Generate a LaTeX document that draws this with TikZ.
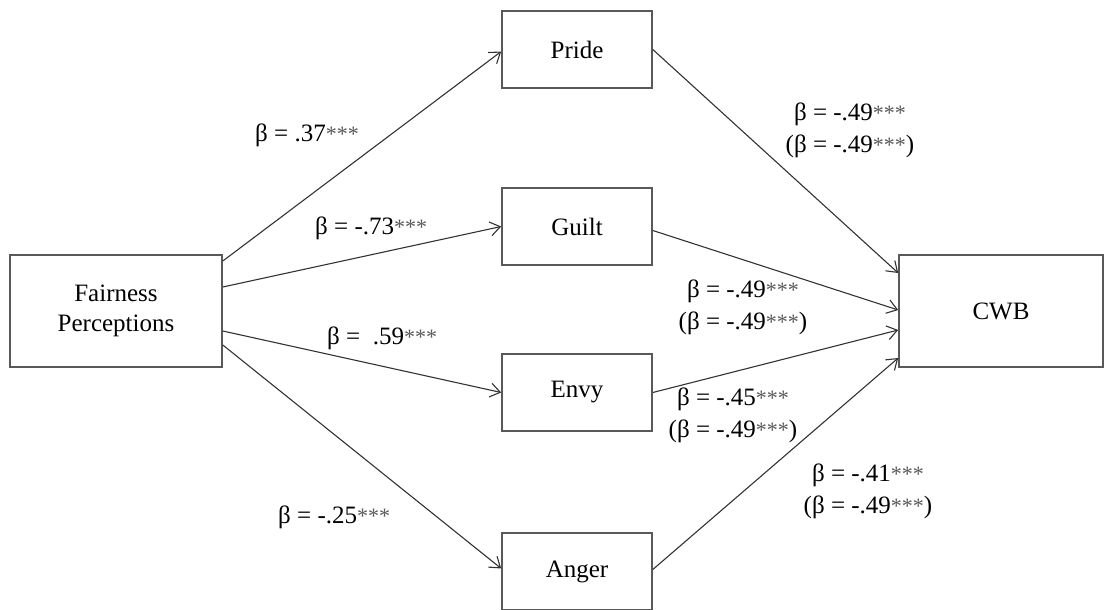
\documentclass[tikz,border=0pt]{standalone}
\usepackage{fontspec}
\setmainfont{Liberation Serif}
\usetikzlibrary{arrows.meta,calc}
\newcommand\sigstars{{\fontsize{22}{22}\selectfont\color{black!65}***}}
\begin{document}
\begin{tikzpicture}[x=1pt,y=-1pt,
  box/.style={draw=black!65,line width=1.6pt,fill=white,inner sep=0pt,align=center,font=\fontsize{25}{30}\selectfont},
  med/.style={box,minimum width=150pt,minimum height=77pt},
  big/.style={box,minimum width=212pt,minimum height=112pt},
  link/.style={draw=black!80,line width=1.1pt,-{Straight Barb[length=10pt,width=14pt,line width=1.1pt]}},
  coef/.style={font=\fontsize{25}{32}\selectfont,inner sep=0pt,align=center}]
\useasboundingbox (0,0) rectangle (1109,610);
\node[big] (F) at (116,311) {Fairness\\Perceptions};
\node[big,minimum width=204pt] (C) at (1001,311) {CWB};
\node[med] (P) at (577,49.5) {Pride};
\node[med] (G) at (577,226.5) {Guilt};
\node[med] (E) at (577,392.5) {Envy};
\node[med] (A) at (577,571.5) {Anger};
\draw[link] ($(F.east)+(0,-50)$) -- ($(P.west)+(0,2)$);
\draw[link] ($(F.east)+(0,-24)$) -- (G.west);
\draw[link] ($(F.east)+(0,20)$) -- (E.west);
\draw[link] ($(F.east)+(0,34)$) -- ($(A.west)+(0,-3)$);
\draw[link] (P.east) -- ($(C.west)+(0,-38)$);
\draw[link] ($(G.east)+(0,4)$) -- ($(C.west)+(0,-1)$);
\draw[link] (E.east) -- ($(C.west)+(0,19)$);
\draw[link] ($(A.east)+(0,-2)$) -- ($(C.west)+(0,47)$);
\node[coef,anchor=west] (l1) at (255,135) {β = .37\sigstars};
\node[coef,anchor=west] (l2) at (315,228) {β = -.73\sigstars};
\node[coef,anchor=west] (l3) at (327,338) {β =\ \ .59\sigstars};
\node[coef,anchor=west] (l4) at (278,517) {β = -.25\sigstars};
\node[coef] (r1) at (850,130) {β = -.49\sigstars\\(β = -.49\sigstars)};
\node[coef] (r2) at (743,307.5) {β = -.49\sigstars\\(β = -.49\sigstars)};
\node[coef] (r3) at (733,415.5) {β = -.45\sigstars\\(β = -.49\sigstars)};
\node[coef] (r4) at (868,491) {β = -.41\sigstars\\(β = -.49\sigstars)};
\end{tikzpicture}
\end{document}
